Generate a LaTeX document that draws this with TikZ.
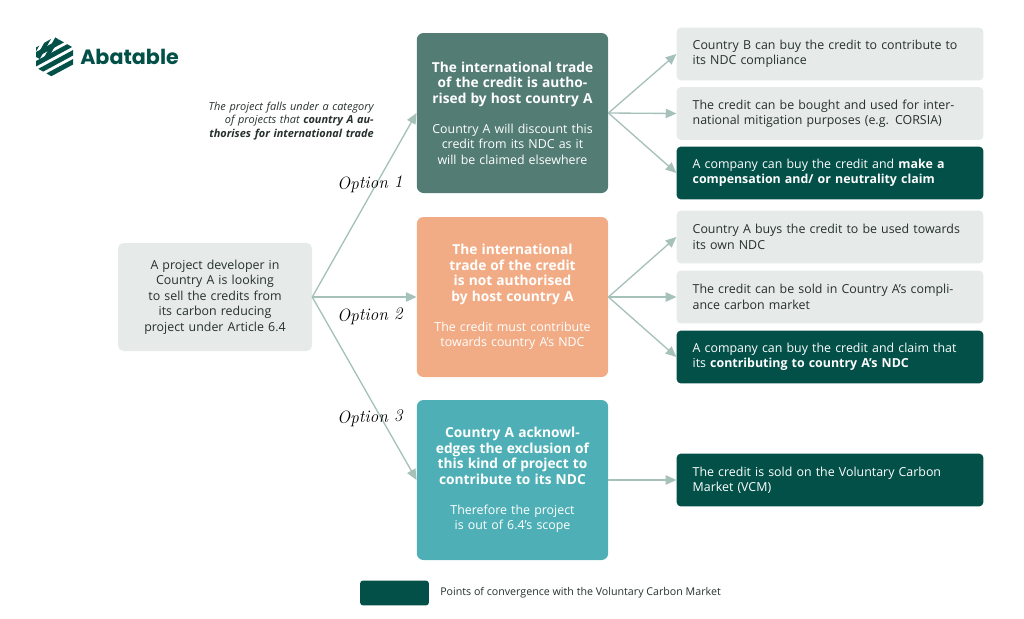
\documentclass[tikz,border=0pt]{standalone}
\usepackage{fontspec}
\setmainfont{Open Sans}
\newfontfamily\logofont{Poppins}
\newfontfamily\handfont{Latin Modern Roman}
\definecolor{darkgreen}{HTML}{025048}
\definecolor{slategreen}{HTML}{527C74}
\definecolor{paleorange}{HTML}{F2AC85}
\definecolor{paleteal}{HTML}{4EB0B6}
\definecolor{palegrey}{HTML}{E6EBE9}
\definecolor{arrowgreen}{HTML}{A5C1BA}
\definecolor{bodytext}{HTML}{26302E}
\usetikzlibrary{arrows.meta}
\tikzset{
  every node/.style={inner sep=0pt,font=\fontsize{9.3}{11.6}\selectfont},
  outcome/.style={rounded corners=3pt,minimum width=230pt,minimum height=39.5pt,text width=206pt,align=left,text=bodytext},
  lightout/.style={outcome,fill=palegrey},
  darkout/.style={outcome,fill=darkgreen,text=white},
  choice/.style={rounded corners=5pt,minimum width=143.5pt,minimum height=120pt,text width=122pt,align=center,text=white},
  title/.style={font=\fontsize{10.3}{12}\selectfont\bfseries},
  link/.style={draw=arrowgreen,line width=1pt,-{Triangle[length=8pt,width=7pt]}},
  optlabel/.style={font=\fontsize{13}{15}\handfont\itshape,rotate=2},
}
\begin{document}
\begin{tikzpicture}[x=0.75pt,y=-0.75pt]
  \useasboundingbox (0,0) rectangle (1024,618);
  % logo
  \begin{scope}
    \clip (54.5,37) -- (73,47.5) -- (73,67.5) -- (54.5,78) -- (36,67.5) -- (36,47.5) -- cycle;
    \foreach \d in {0,9,18,27} {
      \draw [darkgreen,line width=3.6pt] (30,58+\d) -- (80,31+\d);
    }
    \foreach \d in {0,8,16} {
      \draw [darkgreen,line width=3pt] (30+\d,58) -- (48+\d,26);
    }
  \end{scope}
  \node (logo) [anchor=west,text=darkgreen,font=\fontsize{15.5}{18}\logofont\bfseries] at (80,57) {Abatable};
  % first column
  \node (source) [rounded corners=4pt,fill=palegrey,minimum width=145.5pt,minimum height=81pt,text width=118pt,align=center,text=bodytext] at (215,297)
    {A project developer in Country A is looking to sell the credits from its carbon reducing project under Article 6.4};
  \node (remark) [anchor=north east,align=right,text width=160pt,text=bodytext,font=\fontsize{8.2}{10}\selectfont\itshape] at (374,102)
    {The project falls under a category of projects that \textbf{country A authorises for international trade}};
  % options
  \node (authorised) [choice,fill=slategreen] at (512.5,113) {{\fontsize{10.3}{12}\selectfont\bfseries The international trade of the credit is authorised by host country A}\\[11pt]Country A will discount this credit from its NDC as it will be claimed elsewhere};
  \node (notauth) [choice,fill=paleorange] at (512.5,297) {{\fontsize{10.3}{12}\selectfont\bfseries The international trade of the credit is not authorised by host country A}\\[11pt]The credit must contribute towards country A's NDC};
  \node (excluded) [choice,fill=paleteal] at (512.5,480) {{\fontsize{10.3}{12}\selectfont\bfseries Country A acknowledges the exclusion of this kind of project to contribute to its NDC}\\[11pt]Therefore the project is out of 6.4's scope};
  % outcomes
  \node (buyb) [lightout] at (830,54) {Country B can buy the credit to contribute to its NDC compliance};
  \node (corsia) [lightout] at (830,113.5) {The credit can be bought and used for international mitigation purposes (e.g. CORSIA)};
  \node (claim) [darkout] at (830,173) {A company can buy the credit and \textbf{make a compensation and/ or neutrality claim}};
  \node (buya) [lightout] at (830,237) {Country A buys the credit to be used towards its own NDC};
  \node (market) [lightout] at (830,297) {The credit can be sold in Country A's compliance carbon market};
  \node (contrib) [darkout] at (830,357) {A company can buy the credit and claim that its \textbf{contributing to country A's NDC}};
  \node (vcm) [darkout] at (830,480) {The credit is sold on the Voluntary Carbon Market (VCM)};
  % connectors
  \draw [link] (source.east) -- (authorised.west);
  \draw [link] (source.east) -- (notauth.west);
  \draw [link] (source.east) -- (excluded.west);
  \foreach \to in {buyb,corsia,claim} \draw [link] (authorised.east) -- (\to.west);
  \foreach \to in {buya,market,contrib} \draw [link] (notauth.east) -- (\to.west);
  \draw [link] (excluded.east) -- (vcm.west);
  % option labels
  \node (opta) [optlabel] at (370,184) {Option 1};
  \node (optb) [optlabel] at (370,316) {Option 2};
  \node (optc) [optlabel] at (370,418) {Option 3};
  % legend
  \node (legendkey) [fill=darkgreen,rounded corners=2pt,minimum width=51.5pt,minimum height=18.5pt] at (394.5,593) {};
  \node (legendtext) [anchor=west,text=bodytext,font=\fontsize{8}{10}\selectfont] at (440,593) {Points of convergence with the Voluntary Carbon Market};
\end{tikzpicture}
\end{document}
